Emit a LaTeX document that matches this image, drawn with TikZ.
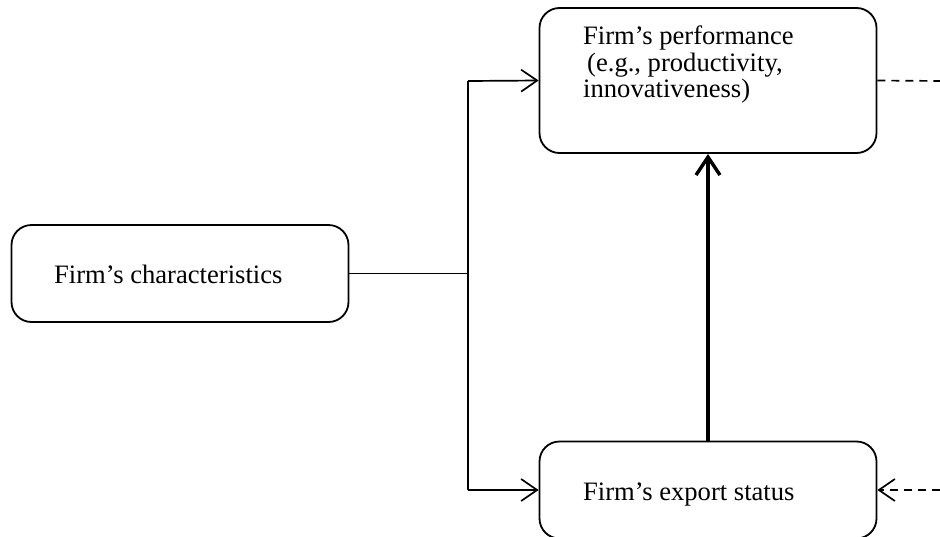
\documentclass[tikz,border=0pt]{standalone}
\usepackage{fontspec}
\setmainfont{Liberation Serif}
\usetikzlibrary{arrows.meta}
\begin{document}
\begin{tikzpicture}[x=1pt,y=-1pt,
  box/.style={draw,line width=1.8pt,rounded corners=20pt,minimum width=337pt,inner sep=0pt},
  lbl/.style={anchor=base west,inner sep=0pt,font=\fontsize{26.6}{26.5}\selectfont,align=left},
  thinln/.style={line width=1.7pt},
  barb/.style={-{Straight Barb[length=16pt,width=22pt,line width=1.7pt]}},
  dashln/.style={dash pattern=on 8pt off 6pt}]
\useasboundingbox (0,0) rectangle (940,536);
\begin{scope}
\clip (0,0) rectangle (940,536);
\node[box,minimum height=97pt] (char) at (180,273.5) {};
\node[box,minimum height=145pt] (perf) at (708,80.5) {};
\node[box,minimum height=97pt] (exp) at (708,490) {};
\node[lbl] (chart) at (54,283) {Firm’s characteristics};
\node[lbl,anchor=north west] (perft) at (583,26) {Firm’s performance\\\hspace*{0.15em}(e.g., productivity,\\innovativeness)};
\node[lbl] (expt) at (583,500) {Firm’s export status};
\coordinate (jm) at (468,273.5);
\coordinate (jt) at (468,81);
\coordinate (jb) at (468,490);
\coordinate (rt) at (940,81);
\coordinate (rb) at (940,490);
\draw[thinln] (char.east) -- (jm);
\draw[thinln] (jt) -- (jb);
\draw[thinln,barb] (jt) -- (perf.west);
\draw[thinln,barb] (jb) -- (exp.west);
\draw[line width=3.5pt,-{Straight Barb[length=18pt,width=24pt,line width=3.5pt]}] (exp.north) -- (perf.south);
\draw[thinln,dashln] (perf.east) -- (rt);
\draw[thinln,dashln,barb] (rb) -- (exp.east);
\end{scope}
\end{tikzpicture}
\end{document}
